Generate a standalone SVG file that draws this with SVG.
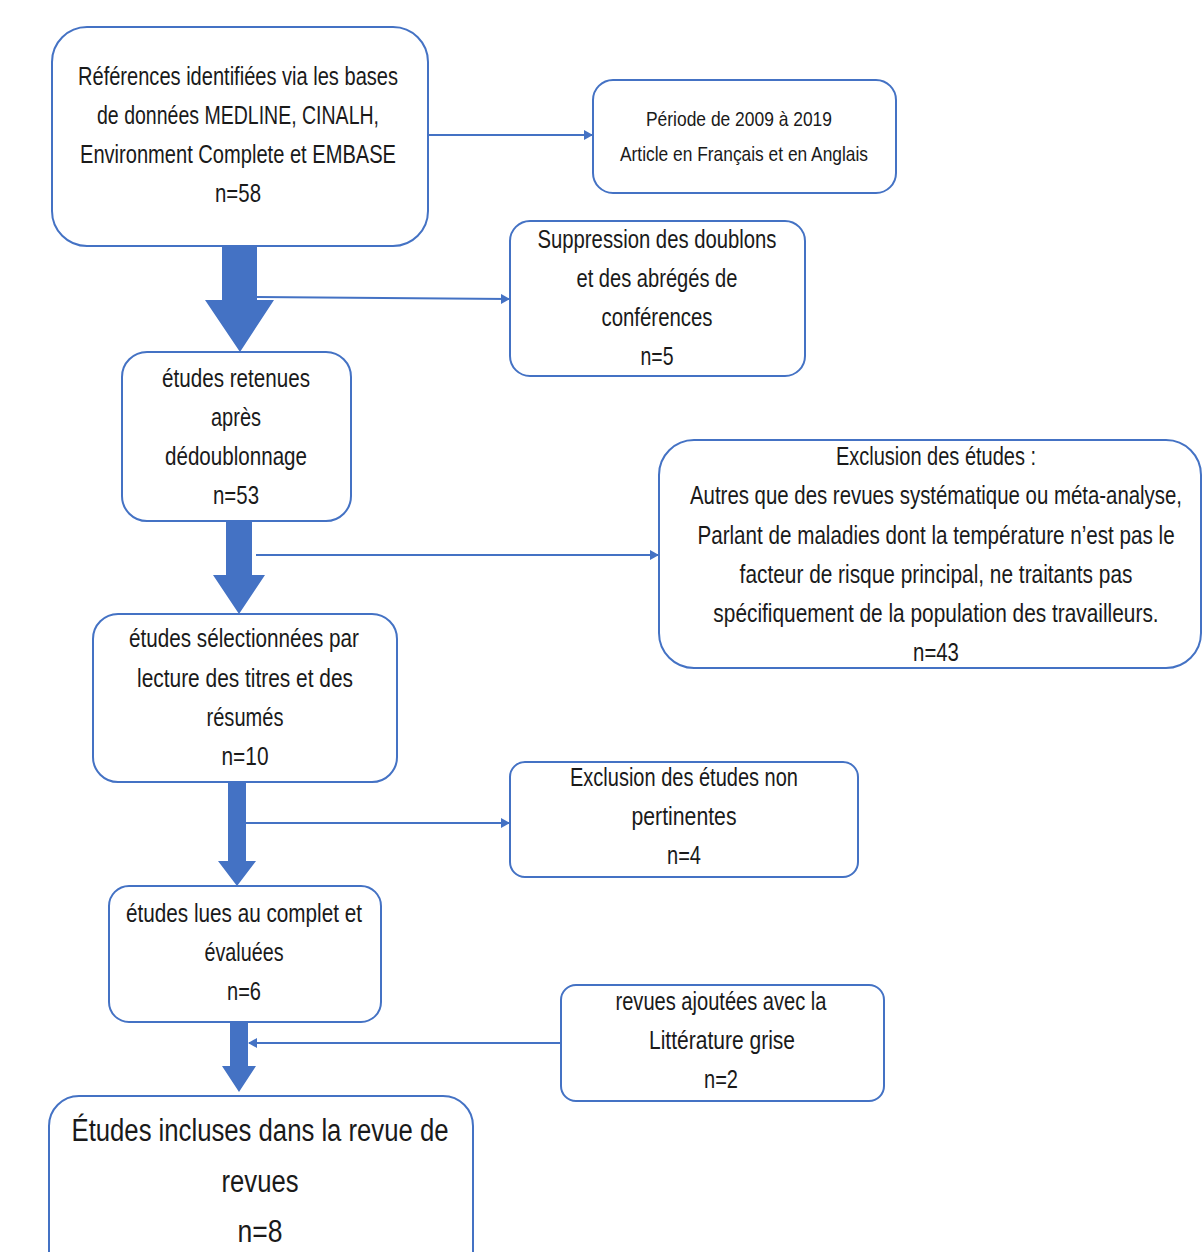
<svg xmlns="http://www.w3.org/2000/svg" width="1203" height="1252" viewBox="0 0 1203 1252">
<style>
.box{fill:#ffffff;stroke:#4472C4;stroke-width:2}
.t{font-family:"Liberation Sans",Arial,sans-serif;font-size:25px;fill:#1a1a1a;text-anchor:middle}
.s{font-size:21px}
.b{font-size:31px}
.thin{stroke:#4472C4;stroke-width:2;fill:none}
.big{fill:#4472C4}
</style>
<defs>
<marker id="ah" markerWidth="10" markerHeight="10" refX="8" refY="5" orient="auto" markerUnits="userSpaceOnUse">
<path d="M0,0 L9,5 L0,10 Z" fill="#4472C4"/>
</marker>
</defs>
<rect width="1203" height="1252" fill="#ffffff"/>

<g id="connectors">
<line class="thin" x1="428" y1="135" x2="592" y2="135" marker-end="url(#ah)"/>
<polygon class="big" points="222,246 257,246 257,300 274,300 240,352 205,300 222,300"/>
<line class="thin" x1="257" y1="297" x2="509" y2="299" marker-end="url(#ah)"/>
<polygon class="big" points="226,521 252,521 252,575 265,575 239,614 213,575 226,575"/>
<line class="thin" x1="256" y1="555" x2="658" y2="555" marker-end="url(#ah)"/>
<polygon class="big" points="228,782 246,782 246,861 256,861 237,886 218,861 228,861"/>
<line class="thin" x1="246" y1="823" x2="509" y2="823" marker-end="url(#ah)"/>
<polygon class="big" points="230,1022 248,1022 248,1066 256,1066 239,1092 222,1066 230,1066"/>
<line class="thin" x1="561" y1="1043" x2="249" y2="1043" marker-end="url(#ah)"/>
</g>

<g id="n1">
<rect class="box" x="52" y="27" width="376" height="219" rx="35"/>
<text class="t" x="238" y="85" textLength="320" lengthAdjust="spacingAndGlyphs">Références identifiées via les bases</text>
<text class="t" x="238" y="124" textLength="282" lengthAdjust="spacingAndGlyphs">de données MEDLINE, CINALH,</text>
<text class="t" x="238" y="163" textLength="316" lengthAdjust="spacingAndGlyphs">Environment Complete et EMBASE</text>
<text class="t" x="238" y="202" textLength="46" lengthAdjust="spacingAndGlyphs">n=58</text>
</g>

<g id="n2">
<rect class="box" x="593" y="80" width="303" height="113" rx="20"/>
<text class="t s" x="739" y="126" textLength="186" lengthAdjust="spacingAndGlyphs">Période de 2009 à 2019</text>
<text class="t s" x="744" y="161" textLength="248" lengthAdjust="spacingAndGlyphs">Article en Français et en Anglais</text>
</g>

<g id="n3">
<rect class="box" x="510" y="221" width="295" height="155" rx="20"/>
<text class="t" x="657" y="248" textLength="239" lengthAdjust="spacingAndGlyphs">Suppression des doublons</text>
<text class="t" x="657" y="287" textLength="161" lengthAdjust="spacingAndGlyphs">et des abrégés de</text>
<text class="t" x="657" y="326" textLength="111" lengthAdjust="spacingAndGlyphs">conférences</text>
<text class="t" x="657" y="365" textLength="33" lengthAdjust="spacingAndGlyphs">n=5</text>
</g>

<g id="n4">
<rect class="box" x="122" y="352" width="229" height="169" rx="25"/>
<text class="t" x="236" y="387" textLength="148" lengthAdjust="spacingAndGlyphs">études retenues</text>
<text class="t" x="236" y="426" textLength="50" lengthAdjust="spacingAndGlyphs">après</text>
<text class="t" x="236" y="465" textLength="142" lengthAdjust="spacingAndGlyphs">dédoublonnage</text>
<text class="t" x="236" y="504" textLength="46" lengthAdjust="spacingAndGlyphs">n=53</text>
</g>

<g id="n5">
<rect class="box" x="659" y="440" width="542" height="228" rx="35"/>
<g transform="translate(936,0) scale(0.82,1)">
<text class="t" x="0" y="465" textLength="244" lengthAdjust="spacingAndGlyphs">Exclusion des études :</text>
<text class="t" x="0" y="504" textLength="600" lengthAdjust="spacingAndGlyphs">Autres que des revues systématique ou méta-analyse,</text>
<text class="t" x="0" y="544" textLength="582" lengthAdjust="spacingAndGlyphs">Parlant de maladies dont la température n’est pas le</text>
<text class="t" x="0" y="583" textLength="479" lengthAdjust="spacingAndGlyphs">facteur de risque principal, ne traitants pas</text>
<text class="t" x="0" y="622" textLength="543" lengthAdjust="spacingAndGlyphs">spécifiquement de la population des travailleurs.</text>
<text class="t" x="0" y="661" textLength="56" lengthAdjust="spacingAndGlyphs">n=43</text>
</g>
</g>

<g id="n6">
<rect class="box" x="93" y="614" width="304" height="168" rx="25"/>
<text class="t" x="244" y="647" textLength="230" lengthAdjust="spacingAndGlyphs">études sélectionnées par</text>
<text class="t" x="245" y="687" textLength="216" lengthAdjust="spacingAndGlyphs">lecture des titres et des</text>
<text class="t" x="245" y="726" textLength="77" lengthAdjust="spacingAndGlyphs">résumés</text>
<text class="t" x="245" y="765" textLength="47" lengthAdjust="spacingAndGlyphs">n=10</text>
</g>

<g id="n7">
<rect class="box" x="510" y="762" width="348" height="115" rx="15"/>
<text class="t" x="684" y="786" textLength="228" lengthAdjust="spacingAndGlyphs">Exclusion des études non</text>
<text class="t" x="684" y="825" textLength="105" lengthAdjust="spacingAndGlyphs">pertinentes</text>
<text class="t" x="684" y="864" textLength="34" lengthAdjust="spacingAndGlyphs">n=4</text>
</g>

<g id="n8">
<rect class="box" x="109" y="886" width="272" height="136" rx="20"/>
<text class="t" x="244" y="922" textLength="236" lengthAdjust="spacingAndGlyphs">études lues au complet et</text>
<text class="t" x="244" y="961" textLength="79" lengthAdjust="spacingAndGlyphs">évaluées</text>
<text class="t" x="244" y="1000" textLength="34" lengthAdjust="spacingAndGlyphs">n=6</text>
</g>

<g id="n9">
<rect class="box" x="561" y="985" width="323" height="116" rx="15"/>
<text class="t" x="721" y="1010" textLength="211" lengthAdjust="spacingAndGlyphs">revues ajoutées avec la</text>
<text class="t" x="722" y="1049" textLength="146" lengthAdjust="spacingAndGlyphs">Littérature grise</text>
<text class="t" x="721" y="1088" textLength="34" lengthAdjust="spacingAndGlyphs">n=2</text>
</g>

<g id="n10">
<rect class="box" x="49" y="1096" width="424" height="190" rx="30"/>
<text class="t b" x="260" y="1141" textLength="377" lengthAdjust="spacingAndGlyphs">Études incluses dans la revue de</text>
<text class="t b" x="260" y="1192" textLength="77" lengthAdjust="spacingAndGlyphs">revues</text>
<text class="t b" x="260" y="1242" textLength="45" lengthAdjust="spacingAndGlyphs">n=8</text>
</g>
</svg>
